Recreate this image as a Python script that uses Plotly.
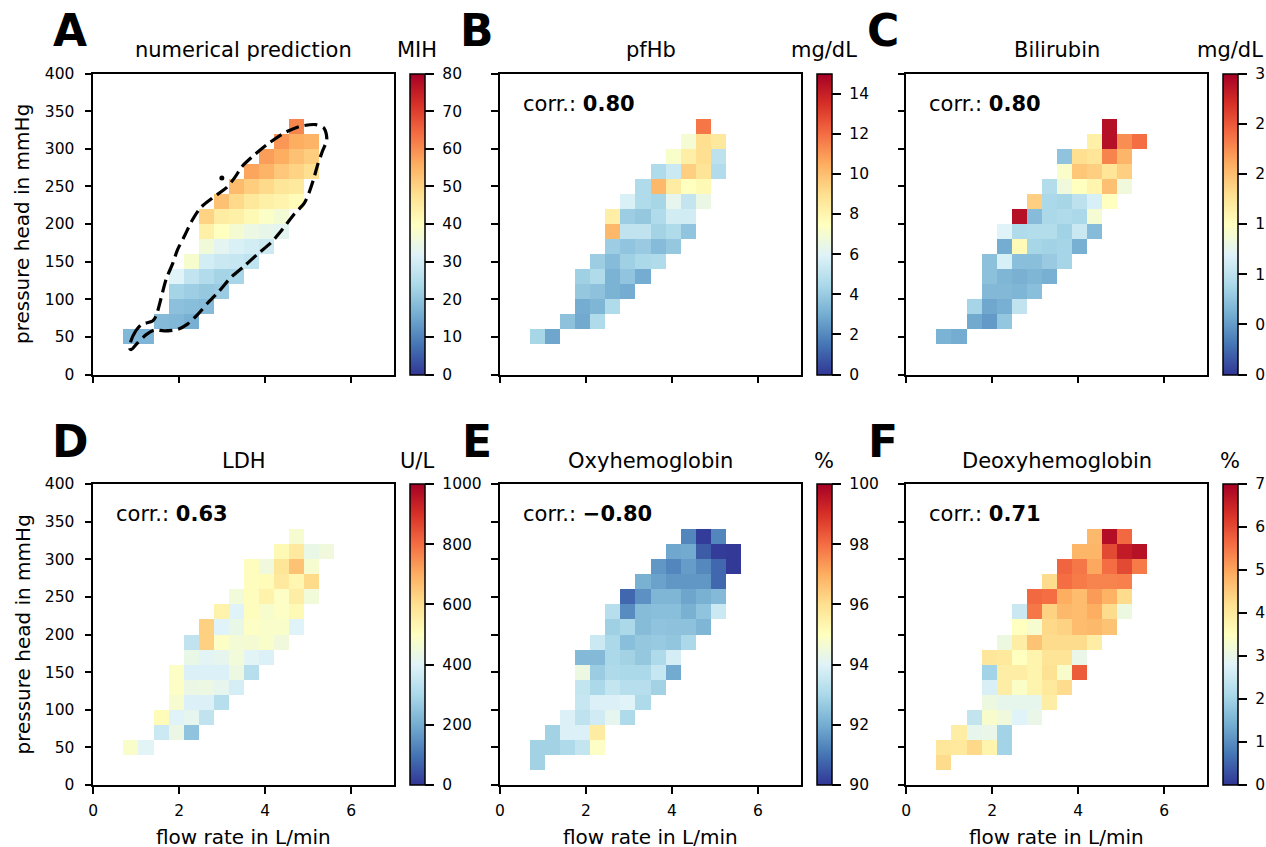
import plotly.graph_objects as go

W, H = 1266, 847

# ---------------- data (20x20 bins: flow 0..7 L/min step 0.35, head 0..400 mmHg step 20) ----------------
flow_bin0, flow_step = 0.175, 0.35
head_bin0, head_step = 10, 20

# rows j = 1..16 (bottom to top); start column index per row and values
mih_start = [None, 2, 4, 5, 5, 5, 6, 7, 7, 7, 8, 9, 10, 11, 12, 13]
mih_vals = [[], [18, 17.5], [18.5, 18, 16.5], [19.5, 19, 18.5], [23, 22, 21, 21.5],
            [32, 27.5, 25, 23, 23.5], [38, 30, 28.5, 28, 27], [36.5, 33, 31, 30, 29],
            [44, 40, 37.5, 35, 34, 33], [50, 45, 44, 41.5, 39, 37], [53, 49, 46, 44, 43, 41],
            [54, 51, 49, 46.5, 45.5], [57, 55, 52, 50, 48], [58, 56, 53, 51], [59, 56, 55], [61]]

pfhb_start = [None, 2, 4, 5, 5, 5, 6, 7, 7, 7, 8, 9, 10, 11, 12, 13]
pfhb_vals = [[], [4.4, 2.8], [3.7, 2.9, 4.6], [3.0, 3.3, 4.6], [3.9, 3.7, 3.2, 3.0],
             [4.2, 4.6, 3.2, 3.8, 3.0], [4.1, 3.5, 4.2, 4.5, 4.6], [4.1, 3.8, 4.0, 3.5, 3.9],
             [10.2, 5.1, 5.1, 4.3, 4.6, 3.8], [8.3, 4.1, 3.9, 4.6, 5.6, 5.6],
             [5.8, 4.6, 4.4, 6.3, 5.2, 6.5], [4.6, 10.2, 8.4, 7.5, 7.8],
             [4.6, 5.4, 9.5, 8.8, 4.7], [7.2, 8.3, 9.0, 5.0], [7.0, 9.0, 8.6], [11.8]]

bili_start = [None, 2, 4, 4, 5, 5, 5, 6, 6, 7, 8, 9, 10, 10, 12, 13]
bili_vals = [[], [0.64, 0.6], [0.58, 0.5, 0.77], [0.87, 0.57, 0.62, 1.02], [0.68, 0.68, 0.66, 0.72],
             [0.73, 0.66, 0.63, 0.66, 0.62], [0.73, 1.15, 0.72, 0.72, 0.8, 0.87],
             [0.6, 1.55, 0.88, 0.85, 0.87, 0.62], [1.2, 0.92, 0.95, 0.95, 0.85, 1.07, 0.7],
             [2.9, 0.7, 0.9, 0.92, 0.9, 1.4], [1.9, 0.9, 0.88, 1.0, 1.15, 1.5],
             [0.95, 1.35, 1.5, 1.6, 2.0, 1.35], [1.45, 1.95, 1.9, 1.75, 1.9],
             [0.75, 1.8, 1.75, 2.3, 2.05], [1.65, 2.9, 2.25, 2.4], [2.9]]

ldh_start = [None, 2, 4, 4, 5, 5, 5, 6, 6, 7, 8, 9, 10, 10, 12, 13]
ldh_vals = [[], [480, 405], [360, 435, 250], [510, 400, 420, 340], [470, 390, 390, 320],
            [490, 435, 440, 420, 380], [490, 390, 390, 390, 440, 320],
            [430, 405, 420, 455, 405, 390], [340, 630, 490, 460, 465, 480, 450],
            [630, 400, 430, 490, 480, 480, 400], [540, 400, 505, 475, 490, 520],
            [455, 505, 540, 490, 555, 455], [505, 510, 570, 530, 610],
            [505, 450, 580, 660, 470], [520, 570, 430, 450], [470]]

oxy_start = [2, 2, 3, 4, 5, 5, 5, 5, 6, 7, 7, 8, 9, 10, 11, 12]
oxy_vals = [[92.85], [92.85, 92.85, 93.05, 93.45, 94.9], [92.85, 93.9, 93.9, 95.6],
            [93.9, 93.35, 93.7, 94.2, 93.05], [93.5, 93.9, 93.9, 94.0, 93.05],
            [93.45, 93.0, 93.45, 93.2, 93.2, 92.85], [94.4, 92.7, 93.05, 93.0, 93.0, 93.5, 91.95],
            [92.3, 92.3, 93.0, 92.85, 92.6, 93.05, 93.8], [93.6, 93.0, 92.4, 92.6, 92.65, 92.55, 93.0],
            [92.8, 93.0, 92.35, 92.5, 92.45, 92.45, 92.2],
            [93.2, 91.4, 92.35, 92.4, 92.4, 92.1, 92.5, 93.6],
            [90.8, 91.5, 92.2, 92.2, 91.85, 92.1, 92.3], [92.1, 91.8, 91.6, 91.6, 91.6, 90.8],
            [91.6, 91.3, 91.7, 91.35, 90.8, 90.05], [91.9, 91.95, 90.6, 90.1, 90.05],
            [91.3, 90.1, 91.3]]

deoxy_start = [2, 2, 3, 4, 5, 5, 5, 5, 6, 7, 7, 8, 9, 10, 11, 12]
deoxy_vals = [[4.25], [4.05, 4.0, 4.3, 3.75, 2.0], [3.9, 2.95, 3.0, 2.0],
              [2.4, 3.35, 3.15, 2.8, 3.0], [3.1, 2.95, 2.95, 2.95, 3.9],
              [2.7, 3.9, 3.4, 3.75, 4.0, 4.25], [2.0, 3.9, 3.9, 3.75, 4.15, 3.35, 5.8],
              [4.05, 4.0, 3.5, 3.75, 4.1, 4.1, 3.0], [3.1, 3.9, 4.6, 4.25, 4.25, 4.25, 3.9],
              [3.5, 3.3, 4.3, 4.4, 4.7, 4.75, 4.6], [2.5, 5.5, 4.4, 4.75, 4.7, 4.9, 4.25, 3.1],
              [5.65, 5.6, 4.9, 4.7, 5.1, 4.85, 4.25], [4.25, 5.6, 5.45, 5.35, 5.35, 5.4],
              [5.7, 5.5, 4.95, 5.6, 6.0, 5.45], [4.8, 4.8, 6.0, 6.6, 6.75], [4.75, 6.8, 5.65]]

# dashed contour of numerical prediction (flow, head)
contour_flow = [0.84, 0.92, 1.11, 1.38, 1.46, 1.57, 1.69, 1.85, 1.96, 2.12, 2.31, 2.50, 2.78, 3.09,
                3.28, 3.47, 3.71, 4.05, 4.44, 4.83, 5.18, 5.37, 5.43, 5.33, 5.22, 5.12, 5.02, 4.91,
                4.67, 4.40, 4.13, 3.82, 3.51, 3.20, 2.93, 2.66, 2.43, 2.19, 1.96, 1.65, 1.42, 1.23,
                1.03, 0.88, 0.84]
contour_head = [35, 51, 66, 71, 78, 100, 126, 148, 166, 184, 206, 222, 235, 248,
                261, 277, 290, 306, 321, 330, 332, 327, 312, 297, 279, 259, 242, 228,
                213, 193, 175, 160, 144, 129, 111, 95, 80, 67, 60, 58, 59, 53,
                42, 33, 35]
contour_dot_flow = [2.99]
contour_dot_head = [261]

panel_letters = ["A", "B", "C", "D", "E", "F"]
panel_titles = ["numerical prediction", "pfHb", "Bilirubin", "LDH", "Oxyhemoglobin", "Deoxyhemoglobin"]
panel_units = ["MIH", "mg/dL", "mg/dL", "U/L", "%", "%"]
corr_values = [None, "0.80", "0.80", "0.63", "\u22120.80", "0.71"]
z_ranges = [(0, 80), (0, 15), (0, 3), (0, 1000), (90, 100), (0, 7)]
cbar_ticks = [list(range(0, 81, 10)), list(range(0, 15, 2)), [0, 0.5, 1, 1.5, 2, 2.5, 3],
              list(range(0, 1001, 200)), list(range(90, 101, 2)), list(range(0, 8))]
cbar_labels = [[str(v) for v in cbar_ticks[0]], [str(v) for v in cbar_ticks[1]],
               ["0.0", "0.5", "1.0", "1.5", "2.0", "2.5", "3.0"],
               [str(v) for v in cbar_ticks[3]], [str(v) for v in cbar_ticks[4]],
               [str(v) for v in cbar_ticks[5]]]
flow_ticks = [0, 2, 4, 6]
head_ticks = [0, 50, 100, 150, 200, 250, 300, 350, 400]

starts_all = [mih_start, pfhb_start, bili_start, ldh_start, oxy_start, deoxy_start]
vals_all = [mih_vals, pfhb_vals, bili_vals, ldh_vals, oxy_vals, deoxy_vals]


def build_grid(starts, vals):
    z = [[None] * 20 for _ in range(20)]
    for j, (s, row) in enumerate(zip(starts, vals), start=1):
        if s is None:
            continue
        for k, v in enumerate(row):
            z[j][s + k] = v
    return z


# ---------------- layout geometry (pixels) ----------------
col_left = [93.3, 500.0, 906.3]
row_top = [73.5, 484.0]
size = 301.0
FONT = "DejaVu Sans"
PAD = "\u00a0"


def fx(p):
    return p / W


def fy(p):
    return 1 - p / H


fig = go.Figure()
layout = dict(width=W, height=H, margin=dict(l=0, r=0, t=0, b=0, autoexpand=False),
              paper_bgcolor="white", plot_bgcolor="white", showlegend=False,
              font=dict(family=FONT, color="black"))
annotations = []

for k in range(6):
    r, c = divmod(k, 3)
    L, T = col_left[c], row_top[r]
    sfx = "" if k == 0 else str(k + 1)
    zmin, zmax = z_ranges[k]
    cb = dict(thickness=15, thicknessmode="pixels", len=size, lenmode="pixels",
              x=fx(L + size + 15.5), xanchor="left", xpad=0,
              y=fy(T + size / 2), yanchor="middle", ypad=0,
              outlinewidth=1.5, outlinecolor="black",
              ticks="outside", ticklen=9, tickwidth=1.5, tickcolor="black",
              tickvals=cbar_ticks[k], ticktext=[PAD + t for t in cbar_labels[k]],
              tickfont=dict(size=15.5, family=FONT, color="black"))
    fig.add_trace(go.Heatmap(
        z=build_grid(starts_all[k], vals_all[k]), x0=flow_bin0, dx=flow_step,
        y0=head_bin0, dy=head_step, colorscale="RdYlBu_r", zmin=zmin, zmax=zmax,
        colorbar=cb, hoverinfo="skip", xaxis="x" + sfx, yaxis="y" + sfx))

    layout["xaxis" + sfx] = dict(
        domain=[fx(L), fx(L + size)], range=[0, 7], tickvals=flow_ticks,
        ticks="outside", ticklen=7, tickwidth=1.5, tickcolor="black",
        showline=True, mirror=True, linecolor="black", linewidth=1.5,
        showgrid=False, zeroline=False, showticklabels=(r == 1), ticklabelstandoff=4,
        tickfont=dict(size=15.5, family=FONT), anchor="y" + sfx, fixedrange=True)
    layout["yaxis" + sfx] = dict(
        domain=[fy(T + size), fy(T)], range=[0, 400], tickvals=head_ticks,
        ticks="outside", ticklen=7, tickwidth=1.5, tickcolor="black",
        showline=True, mirror=True, linecolor="black", linewidth=1.5,
        showgrid=False, zeroline=False, showticklabels=(c == 0), ticklabelstandoff=7,
        tickfont=dict(size=15.5, family=FONT), anchor="x" + sfx, fixedrange=True)

    # panel letter
    annotations.append(dict(text="<b>%s</b>" % panel_letters[k], x=fx(L - 23), y=fy(T - 43),
                            xref="paper", yref="paper", xanchor="center", yanchor="middle",
                            showarrow=False, font=dict(size=44, family=FONT, color="black")))
    # title
    annotations.append(dict(text=panel_titles[k], x=fx(L + size / 2), y=fy(T - 23),
                            xref="paper", yref="paper", xanchor="center", yanchor="middle",
                            showarrow=False, font=dict(size=21, family=FONT, color="black")))
    # unit above colorbar
    annotations.append(dict(text=panel_units[k], x=fx(L + size + 23), y=fy(T - 23),
                            xref="paper", yref="paper", xanchor="center", yanchor="middle",
                            showarrow=False, font=dict(size=21, family=FONT, color="black")))
    if corr_values[k]:
        annotations.append(dict(text="corr.: <b>%s</b>" % corr_values[k], x=fx(L + 21), y=fy(T + 30),
                                xref="paper", yref="paper", xanchor="left", yanchor="middle",
                                showarrow=False, font=dict(size=21, family=FONT, color="black")))

# axis titles
for c in range(3):
    annotations.append(dict(text="flow rate in L/min", x=fx(col_left[c] + size / 2), y=fy(837),
                            xref="paper", yref="paper", xanchor="center", yanchor="middle",
                            showarrow=False, font=dict(size=20, family=FONT, color="black")))
for r in range(2):
    annotations.append(dict(text="pressure head in mmHg", x=fx(22), y=fy(row_top[r] + size / 2),
                            xref="paper", yref="paper", xanchor="center", yanchor="middle",
                            textangle=-90, showarrow=False,
                            font=dict(size=20, family=FONT, color="black")))

# dashed contour of the prediction
fig.add_trace(go.Scatter(x=contour_flow, y=contour_head, mode="lines",
                         line=dict(color="black", width=3.2, dash="13px,6px", shape="spline", smoothing=0.8),
                         hoverinfo="skip", xaxis="x", yaxis="y"))
fig.add_trace(go.Scatter(x=contour_dot_flow, y=contour_dot_head, mode="markers",
                         marker=dict(color="black", size=5), hoverinfo="skip", xaxis="x", yaxis="y"))

layout["annotations"] = annotations
fig.update_layout(**layout)
fig.write_html("out.html")
